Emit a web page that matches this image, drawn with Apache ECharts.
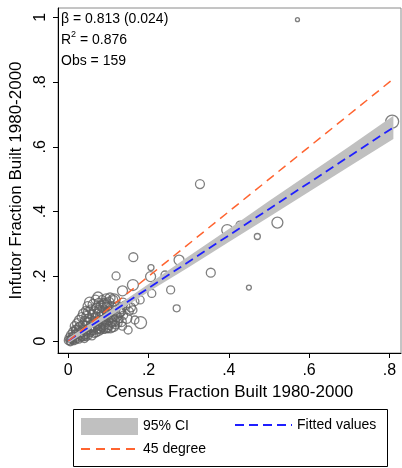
<!DOCTYPE html>
<html>
<head>
<meta charset="utf-8">
<script src="https://cdn.jsdelivr.net/npm/echarts@6/dist/echarts.min.js"></script>
<style>
html,body{margin:0;padding:0;background:#fff;}
#chart{width:402px;height:468px;}
</style>
</head>
<body>
<div id="chart"></div>
<script>
// ---- data ----
var censusFrac = [
  0.807,0.571,0.328,0.396,0.428,0.521,0.471,0.276,0.355,0.450,0.255,0.162,0.206,0.119,0.205,0.241,0.161,0.135,0.208,0.179,0.161,0.270,0.180,0.135,0.114,0.074,0.104,0.136,0.091,0.129,0.166,0.149,0.166,0.096,
  0.000,0.003,0.005,0.008,0.010,0.012,0.013,0.015,0.017,0.018,0.020,0.006,0.016,
  0.022,0.023,0.025,0.026,0.028,0.029,0.030,0.032,0.033,0.034,0.036,0.037,0.038,0.039,0.040,
  0.041,0.042,0.043,0.044,0.045,0.046,0.047,0.048,0.049,0.050,0.051,0.052,0.053,0.054,0.055,0.057,0.058,0.059,
  0.061,0.062,0.063,0.064,0.065,0.066,0.067,0.068,0.069,0.070,0.071,0.072,0.073,0.074,0.075,0.076,0.077,0.078,0.079,0.080,
  0.081,0.082,0.083,0.084,0.085,0.086,0.087,0.088,0.089,0.090,0.091,0.092,0.093,0.094,0.095,0.096,0.097,0.098,0.099,0.100,
  0.101,0.102,0.104,0.105,0.106,0.108,0.109,0.110,0.112,0.113,0.115,0.117,0.118,0.120,0.122,0.124,0.126,0.128,0.130,
  0.132,0.138,0.142,0.146,0.152,0.156,
  0.004,0.011,0.021,0.027,0.035,0.044,0.050,0.056,0.063,0.070,0.078,0.088,0.096,0.107
];
var infutorFrac = [
  0.678,0.993,0.485,0.343,0.358,0.366,0.323,0.250,0.211,0.165,0.158,0.259,0.227,0.201,0.199,0.204,0.173,0.155,0.147,0.127,0.096,0.101,0.057,0.046,0.127,0.136,0.133,0.117,0.111,0.090,0.065,0.034,0.122,0.117,
  0.002,0.010,-0.004,0.018,0.004,0.028,-0.002,0.012,0.036,0.002,0.022,0.006,0.046,
  0.008,0.054,0.030,0.004,0.064,0.018,0.042,0.010,0.074,0.028,0.052,0.014,0.084,0.036,0.006,
  0.062,0.022,0.094,0.044,0.012,0.076,0.030,0.108,0.056,0.018,0.088,0.038,0.120,0.066,0.024,0.098,0.048,0.016,
  0.080,0.032,0.112,0.058,0.022,0.090,0.042,0.128,0.070,0.026,0.102,0.050,0.036,0.084,0.062,0.118,0.030,0.094,0.046,0.074,
  0.034,0.108,0.056,0.128,0.040,0.086,0.066,0.036,0.116,0.050,0.096,0.040,0.072,0.132,0.058,0.044,0.104,0.082,0.038,0.064,
  0.120,0.048,0.090,0.042,0.070,0.106,0.054,0.082,0.046,0.128,0.062,0.094,0.050,0.076,0.108,0.056,0.088,0.068,0.098,
  0.060,0.080,0.110,0.070,0.092,0.104,
  0.000,0.014,0.032,0.044,0.020,0.032,0.070,0.034,0.046,0.060,0.040,0.076,0.090,0.060
];
var obsWeight = [
  42,4,20,30,16,30,9,25,20,6,16,20,9,16,25,16,30,25,16,16,16,12,36,16,36,25,25,25,25,25,16,16,16,20,
  16,20,12,25,16,20,9,25,16,12,20,16,20,
  16,25,20,12,25,16,30,12,20,25,16,20,25,16,12,
  20,25,16,30,12,25,16,20,25,16,30,20,25,16,12,20,25,16,
  25,16,30,20,12,25,16,20,30,16,25,20,16,25,12,20,16,30,20,25,
  16,25,20,16,12,30,20,16,25,20,16,25,12,20,16,30,20,25,16,20,
  25,16,20,30,12,25,16,20,30,16,25,20,16,25,20,16,25,12,20,
  25,16,20,25,16,20,
  16,20,25,16,30,20,16,25,20,16,25,20,16,25
];
var ciX  = [0, 0.1, 0.2, 0.3, 0.4, 0.5, 0.6, 0.7, 0.81];
var ciLo = [-0.007, 0.073, 0.152, 0.228, 0.306, 0.383, 0.461, 0.539, 0.624];
var ciHi = [0.009, 0.091, 0.176, 0.262, 0.346, 0.433, 0.517, 0.601, 0.696];
var fitX = [0, 0.81];
var fitY = [0.001, 0.660];
var degX = [0, 0.81];
var degY = [0, 0.81];
var xTicks = [0, 0.2, 0.4, 0.6, 0.8];
var xTickLabels = ['0', '.2', '.4', '.6', '.8'];
var yTicks = [0, 0.2, 0.4, 0.6, 0.8, 1];
var yTickLabels = ['0', '.2', '.4', '.6', '.8', '1'];
var statLines = ['\u03B2 = 0.813 (0.024)', 'R{sup|2} = 0.876', 'Obs = 159'];

// ---- chart ----
var FONT = '"Liberation Sans", Arial, Helvetica, sans-serif';
function lab(ticks, labels) {
  return function (v) {
    for (var i = 0; i < ticks.length; i++) if (Math.abs(ticks[i] - v) < 1e-6) return labels[i];
    return '';
  };
}
var pts = censusFrac.map(function (x, i) { return [x, infutorFrac[i], obsWeight[i]]; });
var ciData = ciX.map(function (x, i) { return [x, ciLo[i], ciHi[i]]; });
var hideSym = {color: 'rgba(0,0,0,0)', borderColor: 'rgba(0,0,0,0)', borderWidth: 0, opacity: 0};

var chart = echarts.init(document.getElementById('chart'), null, {renderer: 'canvas'});
chart.setOption({
  animation: false,
  backgroundColor: '#fff',
  textStyle: {fontFamily: FONT},
  grid: {left: 58, top: 8, right: 1, bottom: 115, show: true, borderColor: '#8a8a8a', borderWidth: 1},
  xAxis: {
    type: 'value', min: -0.0257, max: 0.829,
    name: 'Census Fraction Built 1980-2000', nameLocation: 'middle', nameGap: 29,
    nameTextStyle: {fontSize: 17, color: '#000', fontFamily: FONT},
    axisLine: {show: true, onZero: false, lineStyle: {color: '#000', width: 1}},
    axisTick: {show: true, length: 5, inside: false, customValues: xTicks, lineStyle: {color: '#000'}},
    axisLabel: {customValues: xTicks, formatter: lab(xTicks, xTickLabels), fontSize: 16, color: '#000', margin: 10, fontFamily: FONT},
    splitLine: {show: false}
  },
  yAxis: {
    type: 'value', min: -0.037, max: 1.029,
    name: 'Infutor Fraction Built 1980-2000', nameLocation: 'middle', nameGap: 32,
    nameTextStyle: {fontSize: 17, color: '#000', fontFamily: FONT},
    axisLine: {show: true, onZero: false, lineStyle: {color: '#000', width: 1}},
    axisTick: {show: true, length: 5, inside: false, customValues: yTicks, lineStyle: {color: '#000'}},
    axisLabel: {customValues: yTicks, formatter: lab(yTicks, yTickLabels), rotate: 90, fontSize: 16, color: '#000', margin: 9, fontFamily: FONT},
    splitLine: {show: false}
  },
  legend: [
    {
      orient: 'vertical', left: 80, top: 418, padding: 0, itemWidth: 57, itemHeight: 17, itemGap: 7,
      textStyle: {fontSize: 14, color: '#000', fontFamily: FONT},
      data: [{name: '95% CI', icon: 'rect', itemStyle: {color: '#c0c0c0'}}, {name: '45 degree', itemStyle: hideSym}]
    },
    {
      orient: 'vertical', left: 234, top: 418, padding: 0, itemWidth: 57, itemHeight: 17, itemGap: 7,
      textStyle: {fontSize: 14, color: '#000', fontFamily: FONT},
      data: [{name: 'Fitted values', itemStyle: hideSym}]
    }
  ],
  graphic: [
    {type: 'rect', left: 73, top: 409, z: -1, shape: {width: 314, height: 57}, style: {fill: '#fff', stroke: '#000', lineWidth: 1}},
    {
      type: 'text', left: 61, top: 9, z: 100,
      style: {
        text: statLines.join('\n'), fontSize: 14, lineHeight: 21, fill: '#000', fontFamily: FONT,
        rich: {sup: {fontSize: 9, verticalAlign: 'top', lineHeight: 14, padding: [0, 0, 6, 0], fontFamily: FONT}}
      }
    }
  ],
  series: [
    {
      type: 'scatter', name: 'obs', data: pts, z: 2,
      symbol: 'circle',
      symbolSize: function (d) { return 2 * Math.sqrt(d[2]); },
      itemStyle: {color: 'rgba(0,0,0,0)', borderColor: '#606060', borderWidth: 1.3},
      emphasis: {disabled: true}
    },
    {
      type: 'custom', name: '95% CI', z: 3, data: ciData,
      encode: {x: 0, y: [1, 2]},
      itemStyle: {color: '#c0c0c0'},
      clip: true,
      renderItem: function (params, api) {
        if (params.dataIndex !== 0) return null;
        var poly = [];
        for (var i = 0; i < ciX.length; i++) poly.push(api.coord([ciX[i], ciHi[i]]));
        for (var j = ciX.length - 1; j >= 0; j--) poly.push(api.coord([ciX[j], ciLo[j]]));
        return {type: 'polygon', shape: {points: poly}, style: {fill: '#c0c0c0', stroke: null}};
      }
    },
    {
      type: 'line', name: 'Fitted values', z: 4, symbol: 'none',
      data: fitX.map(function (x, i) { return [x, fitY[i]]; }),
      itemStyle: {color: '#1f1fff'},
      lineStyle: {color: '#1f1fff', width: 1.8, type: [9, 5]}
    },
    {
      type: 'line', name: '45 degree', z: 5, symbol: 'none',
      data: degX.map(function (x, i) { return [x, degY[i]]; }),
      itemStyle: {color: '#ff6430'},
      lineStyle: {color: '#ff6430', width: 1.5, type: [9, 6]}
    }
  ]
});
</script>
</body>
</html>
